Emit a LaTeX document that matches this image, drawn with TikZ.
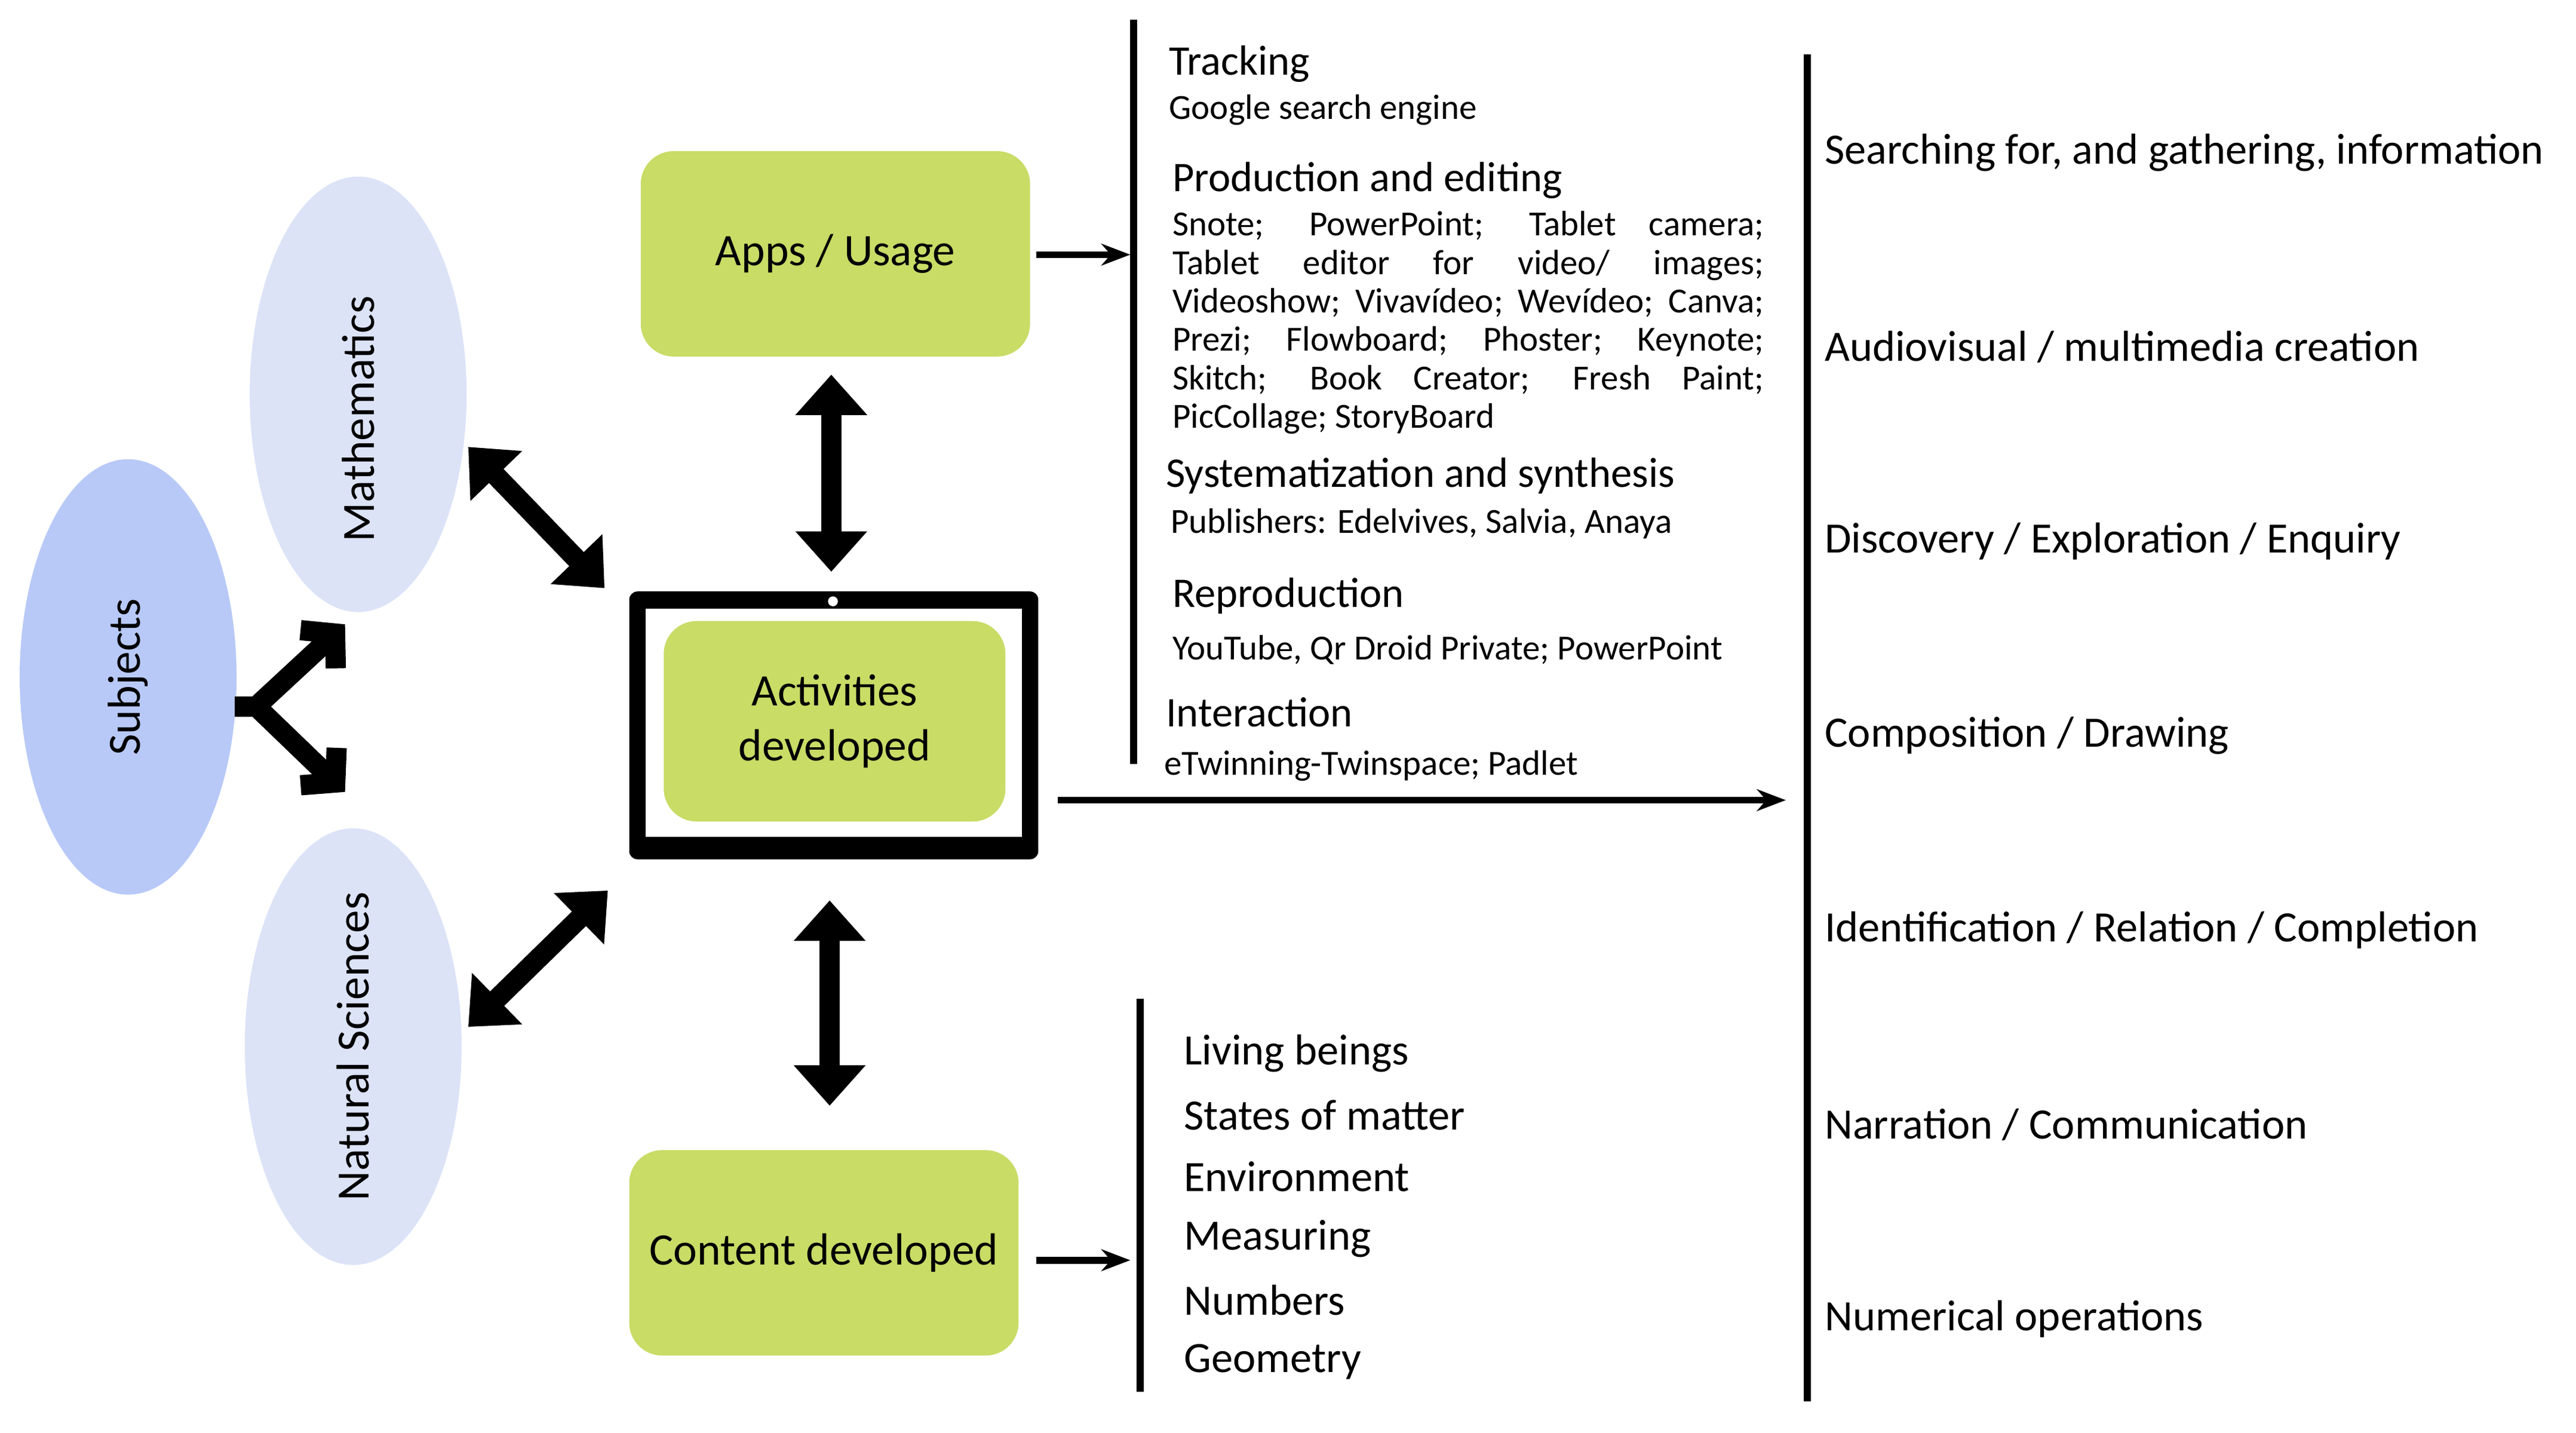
\documentclass[tikz,border=0pt]{standalone}
\usepackage{fontspec}
\setmainfont{Carlito}
\usetikzlibrary{shapes.geometric, arrows.meta}
\definecolor{subjblue}{HTML}{B8C9F7}
\definecolor{lightblue}{HTML}{DCE3F7}
\definecolor{appgreen}{HTML}{C8DC66}
\newcommand{\jline}[1]{\makebox[3.6cm][s]{#1}\\}
\tikzset{
  subject/.style = {ellipse, minimum width=1.32cm, minimum height=2.65cm, inner sep=0pt},
  greenbox/.style = {rectangle, rounded corners=0.2cm, fill=appgreen, text centered, font=\fontsize{7.8}{9.5}\selectfont},
  arrow/.style = {thick, line width=1.2pt, -{Stealth[length=5pt]}},
  bigarrow/.style = {line width=3.5pt, {Triangle[length=7pt,width=12pt]}-{Triangle[length=7pt,width=12pt]}},
  head/.style = {anchor=north west, inner sep=0pt, font=\fontsize{7.3}{9}\selectfont},
  small/.style = {anchor=north west, inner sep=0pt, font=\fontsize{6.1}{6.65}\selectfont},
  right/.style = {anchor=west, inner sep=0pt, font=\fontsize{7.5}{9}\selectfont},
}
\begin{document}
\begin{tikzpicture}
\useasboundingbox (0,0) rectangle (15.68,8.72);

    % Subjects
    \node (subjects) [subject, fill=subjblue] at (0.78,4.60) {\rotatebox{90}{\fontsize{8}{9}\selectfont Subjects}};
    \node (maths) [subject, fill=lightblue] at (2.18,6.32) {\rotatebox{90}{\fontsize{8}{9}\selectfont Mathematics\hspace{0.3cm}}};
    \node (natsci) [subject, fill=lightblue] at (2.15,2.35) {\rotatebox{90}{\fontsize{8}{9}\selectfont Natural Sciences}};

    % Boxes
    \node (apps) [greenbox, minimum width=2.37cm, minimum height=1.25cm] at (5.085,7.175) {Apps / Usage};
    \node (tablet) [rectangle, rounded corners=0.05cm, fill=black, minimum width=2.49cm, minimum height=1.63cm] at (5.075,4.305) {};
    \node (screen) [rectangle, fill=white, minimum width=2.29cm, minimum height=1.39cm] at (5.075,4.32) {};
    \node (activities) [greenbox, minimum width=2.08cm, minimum height=1.22cm, align=center] at (5.08,4.33) {Activities\\developed};
    \fill[white] (5.07,5.06) circle (0.03);
    \fill[white, rounded corners=0.02cm] (4.86,1.99) rectangle (5.28,2.03);
    \node (content) [greenbox, minimum width=2.37cm, minimum height=1.25cm] at (5.015,1.095) {Content developed};

    % Arrows
    \coordinate (fork) at (1.43,4.42);
    \draw [line width=3.5pt] (fork) -- (1.62,4.42);
    \draw [line width=3.5pt, -{Straight Barb[length=4pt,width=9pt]}] (1.56,4.42) -- (2.10,4.92);
    \draw [line width=3.5pt, -{Straight Barb[length=4pt,width=9pt]}] (1.56,4.42) -- (2.10,3.90);
    \draw [bigarrow] (2.85,6.00) -- (3.68,5.14);
    \draw [bigarrow] (2.85,2.47) -- (3.70,3.30);
    \draw [bigarrow] (5.06,6.44) -- (5.06,5.24);
    \draw [bigarrow] (5.05,3.24) -- (5.05,1.99);
    \coordinate (a2) at (6.88,7.17);
    \coordinate (a3) at (6.88,1.05);
    \coordinate (a4) at (10.87,3.85);
    \draw [arrow] (apps.east |- a2) ++(0.03,0) -- (a2);
    \draw [arrow] (content.east |- a3) ++(0.1,0) -- (a3);
    \draw [arrow] (tablet.east |- a4) ++(0.11,0) -- (a4);

    % Lines
    \draw [line width=1.2pt] (6.90,8.60) -- (6.90,4.07);
    \draw [line width=1.2pt] (6.94,2.64) -- (6.94,0.25);
    \draw [line width=1.2pt] (11.00,8.39) -- (11.00,0.19);

    % Tools
    \node (tracking) [head] at (7.11,8.45) {Tracking};
    \node (google) [small] at (7.11,8.15) {Google search engine};
    \node (production) [head] at (7.13,7.74) {Production and editing};
    \node (prodlist) [small, align=left] at (7.13,7.44)
      {\jline{Snote; PowerPoint; Tablet camera;}
       \jline{Tablet editor for video/ images;}
       \jline{Videoshow; Vivavídeo; Wevídeo; Canva;}
       \jline{Prezi; Flowboard; Phoster; Keynote;}
       \jline{Skitch; Book Creator; Fresh Paint;}
       PicCollage; StoryBoard};
    \node (system) [head] at (7.09,5.94) {Systematization and synthesis};
    \node (publishers) [small] at (7.12,5.63) {Publishers: Edelvives, Salvia, Anaya};
    \node (reprod) [head] at (7.13,5.21) {Reproduction};
    \node (youtube) [small] at (7.13,4.86) {YouTube, Qr Droid Private; PowerPoint};
    \node (interact) [head] at (7.09,4.48) {Interaction};
    \node (twinning) [small] at (7.08,4.16) {eTwinning-Twinspace; Padlet};

    % Contents
    \foreach \t [count=\i] in {Living beings, States of matter, Environment, Measuring, Numbers, Geometry}
      \node (cont\i) [right] at (7.20,{2.31-(\i-1)*0.376}) {\t};

    % Activities
    \foreach \t [count=\i] in {{Searching for, and gathering, information}, Audiovisual / multimedia creation, Discovery / Exploration / Enquiry, Composition / Drawing, Identification / Relation / Completion, Narration / Communication, Numerical operations}
      \node (act\i) [right] at (11.10,{7.79-(\i-1)*1.183}) {\t};

\end{tikzpicture}
\end{document}
